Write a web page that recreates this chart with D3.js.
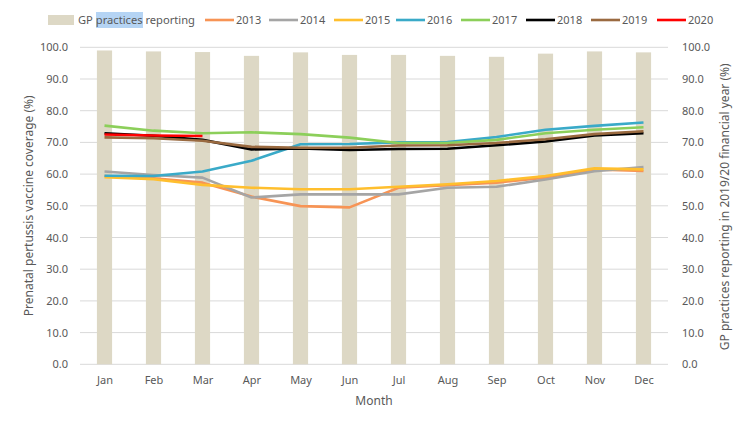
<!DOCTYPE html>
<html><head><meta charset="utf-8">
<script src="https://cdn.jsdelivr.net/npm/d3@7"></script>
<style>body{margin:0;background:#fff}svg{display:block}text{font-family:"Noto Sans",sans-serif}</style>
</head><body><svg id="c" width="733" height="425"></svg>
<script>
const months = ["Jan","Feb","Mar","Apr","May","Jun","Jul","Aug","Sep","Oct","Nov","Dec"];
const yTicks = [0,10,20,30,40,50,60,70,80,90,100];
const gpReporting = [99.0,98.7,98.5,97.3,98.4,97.6,97.6,97.3,97.0,98.0,98.7,98.4];
const s2013 = [59.4,58.7,57.3,52.9,49.9,49.5,55.7,56.5,57.3,58.9,61.5,61.0];
const s2014 = [60.8,59.7,58.9,52.6,53.6,53.6,53.6,55.7,56.0,58.3,60.9,62.2];
const s2015 = [59.0,58.4,56.6,55.7,55.2,55.2,56.0,56.8,57.8,59.4,61.8,61.5];
const s2016 = [59.5,59.4,60.8,64.2,69.4,69.5,70.0,70.1,71.7,74.0,75.2,76.3];
const s2017 = [75.3,73.7,72.9,73.2,72.6,71.5,69.8,69.8,70.8,72.9,74.0,74.8];
const s2018 = [72.9,72.1,70.8,67.8,68.1,67.6,67.9,68.0,69.1,70.3,72.2,72.9];
const s2019 = [71.6,71.3,70.5,68.6,68.3,68.3,69.0,69.1,69.8,71.0,72.6,73.5];
const s2020 = [72.5,72.2,72.0];
const seriesNames = ["2013","2014","2015","2016","2017","2018","2019","2020"];
const seriesValues = [s2013,s2014,s2015,s2016,s2017,s2018,s2019,s2020];
const seriesColors = ["#f79455","#a5a5a5","#ffbf2e","#3aaac8","#8ccf5a","#000000","#9a6a40","#ff0000"];
const barColor = "#ddd8c5";
const textColor = "#595959";

const svg = d3.select("#c");
const L = 80, R = 668, T = 47.3, B = 364.3;
const x = d3.scaleBand().domain(months).range([L, R]).paddingInner(0.69).paddingOuter(0.345);
const xp = d3.scalePoint().domain(months).range([L, R]).padding(0.5);
const y = d3.scaleLinear().domain([0,100]).range([B, T]);

// gridlines
svg.append("g").selectAll("line").data(yTicks).join("line")
  .attr("x1", L).attr("x2", R).attr("y1", d=>y(d)).attr("y2", d=>y(d))
  .attr("stroke", "#d9d9d9").attr("stroke-width", 1);

// bars
svg.append("g").selectAll("rect").data(gpReporting).join("rect")
  .attr("x", (d,i)=>x(months[i])).attr("width", x.bandwidth())
  .attr("y", d=>y(d)).attr("height", d=>B - y(d)).attr("fill", barColor);

// lines
const line = d3.line().x((d,i)=>xp(months[i])).y(d=>y(d));
seriesValues.forEach((vals, k) => {
  svg.append("path").datum(vals).attr("d", line).attr("fill","none")
    .attr("stroke", seriesColors[k]).attr("stroke-width", 2.6)
    .attr("stroke-linejoin","round").attr("stroke-linecap","butt");
});

// axes
const fmt = d3.format(".1f");
const axL = d3.axisLeft(y).tickValues(yTicks).tickFormat(fmt).tickSize(0).tickPadding(12);
const gL = svg.append("g").attr("transform", `translate(${L},0)`).call(axL);
const axR = d3.axisRight(y).tickValues(yTicks).tickFormat(fmt).tickSize(0).tickPadding(14);
const gR = svg.append("g").attr("transform", `translate(${R},0)`).call(axR);
const axB = d3.axisBottom(xp).tickSize(0).tickPadding(12);
const gB = svg.append("g").attr("transform", `translate(0,${B})`).call(axB);
[gL,gR,gB].forEach(g=>{
  g.select(".domain").remove();
  g.selectAll("text").attr("fill", textColor).style("font-size","11px").style("font-family","'Noto Sans',sans-serif");
});

// axis titles
svg.append("text").attr("x", (L+R)/2).attr("y", 405).attr("text-anchor","middle")
  .attr("fill", textColor).style("font-size","12px").text("Month");
svg.append("text").attr("transform", `translate(33,${(T+B)/2}) rotate(-90)`).attr("text-anchor","middle")
  .attr("fill", textColor).style("font-size","12px").text("Prenatal pertussis vaccine coverage (%)");
svg.append("text").attr("transform", `translate(729,${(T+B)/2+1}) rotate(-90)`).attr("text-anchor","middle")
  .attr("fill", textColor).style("font-size","12px").text("GP practices reporting in 2019/20 financial year (%)");

// legend
const ly = 20;
svg.append("rect").attr("x",48).attr("y",ly-5).attr("width",26).attr("height",10).attr("fill",barColor);
svg.append("rect").attr("x",96).attr("y",12).attr("width",47).attr("height",16).attr("fill","#b5d4f4");
svg.append("text").attr("x",78).attr("y",ly).attr("dy","0.35em").attr("fill",textColor)
  .style("font-size","11px").attr("textLength",117).attr("lengthAdjust","spacingAndGlyphs").text("GP practices reporting");
const legX = [205,269,334,396,461,526,591,657];
seriesNames.forEach((n,k)=>{
  svg.append("line").attr("x1",legX[k]).attr("x2",legX[k]+29).attr("y1",ly).attr("y2",ly)
    .attr("stroke",seriesColors[k]).attr("stroke-width",2.6);
  svg.append("text").attr("x",legX[k]+31).attr("y",ly).attr("dy","0.35em").attr("fill",textColor)
    .style("font-size","11px").text(n);
});
</script></body></html>
